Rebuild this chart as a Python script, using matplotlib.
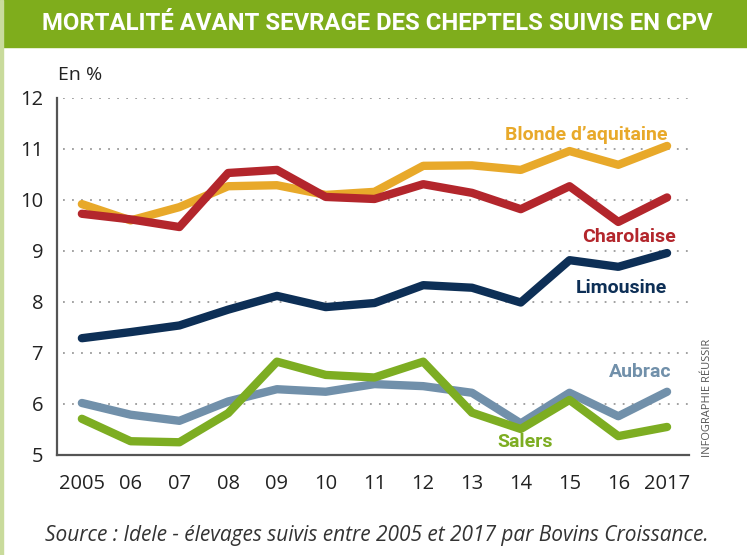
import matplotlib
matplotlib.use("Agg")
import matplotlib.pyplot as plt
from matplotlib.patches import Rectangle

# ==========================================================
# Data
# ==========================================================

years = [2005, 2006, 2007, 2008, 2009, 2010, 2011,
         2012, 2013, 2014, 2015, 2016, 2017]

year_labels = ['2005', '06', '07', '08', '09', '10', '11',
               '12', '13', '14', '15', '16', '2017']

blonde = [9.92, 9.60, 9.86, 10.27, 10.29, 10.10, 10.16,
          10.67, 10.68, 10.59, 10.96, 10.69, 11.06]

charolaise = [9.73, 9.62, 9.47, 10.53, 10.59, 10.06, 10.02,
              10.31, 10.14, 9.82, 10.27, 9.57, 10.05]

limousine = [7.29, 7.41, 7.54, 7.85, 8.12, 7.90, 7.98,
             8.33, 8.28, 7.99, 8.82, 8.69, 8.96]

aubrac = [6.02, 5.79, 5.67, 6.05, 6.29, 6.24, 6.39,
          6.35, 6.22, 5.62, 6.22, 5.76, 6.24]

salers = [5.71, 5.27, 5.25, 5.82, 6.83, 6.57, 6.52,
          6.83, 5.83, 5.51, 6.08, 5.37, 5.55]

series = [
    ('Blonde d\u2019aquitaine', blonde, '#E8A92A'),
    ('Charolaise', charolaise, '#B3262C'),
    ('Limousine', limousine, '#0D2F56'),
    ('Aubrac', aubrac, '#7190AA'),
    ('Salers', salers, '#7DAD22'),
]

# label anchor (right edge x, centre y)
label_pos = {
    'Blonde d\u2019aquitaine': (2017.0, 11.27),
    'Charolaise': (2017.18, 9.27),
    'Limousine': (2017.0, 8.27),
    'Aubrac': (2017.08, 6.63),
    'Salers': (2014.65, 5.25),
}

yticks = [5, 6, 7, 8, 9, 10, 11, 12]

# ==========================================================
# Figure
# ==========================================================

fig = plt.figure(figsize=(7.47, 5.55), dpi=100)

green = '#7FAD1C'
fig.patches.append(Rectangle((0, 1 - 47 / 555), 1, 47 / 555,
                             transform=fig.transFigure,
                             color=green, zorder=0))
fig.patches.append(Rectangle((0, 0), 3 / 747, 1,
                             transform=fig.transFigure,
                             color='#C9DB9C', zorder=0))

fig.text(377 / 747, 1 - 24 / 555,
         'MORTALITÉ AVANT SEVRAGE DES CHEPTELS SUIVIS EN CPV',
         ha='center', va='center', color='white',
         fontsize=17.2, fontweight='bold',
         family=['Roboto', 'DejaVu Sans'])

ax = fig.add_axes([57 / 747, 1 - 455 / 555, (689 - 57) / 747, (455 - 98) / 555])

for name, vals, col in series:
    ax.plot(years, vals, color=col, linewidth=6,
            solid_capstyle='round', solid_joinstyle='round', zorder=3)
    lx, ly = label_pos[name]
    ax.text(lx, ly, name, color=col, ha='right', va='center',
            fontsize=14, fontweight='bold',
            family=['Roboto', 'DejaVu Sans'], zorder=4)

# ==========================================================
# Axes formatting
# ==========================================================

ax.set_xlim(2004.49, 2017.45)
ax.set_ylim(5, 12)

for yv in yticks[1:]:
    ax.plot([2004.62, 2017.42], [yv, yv], linestyle=(0, (1, 4)),
            color='#9A9A9A', linewidth=1.3, zorder=1)

ax.set_xticks(years)
ax.set_xticklabels(year_labels)
ax.set_yticks(yticks)

for s in ['top', 'right']:
    ax.spines[s].set_visible(False)
for s in ['left', 'bottom']:
    ax.spines[s].set_color('#555555')
    ax.spines[s].set_linewidth(1.6)

ax.tick_params(axis='both', length=0, labelsize=14.5, colors='#222222')
ax.tick_params(axis='x', pad=14)
ax.tick_params(axis='y', pad=10)
for lab in ax.get_xticklabels() + ax.get_yticklabels():
    lab.set_family(['Open Sans', 'DejaVu Sans'])

fig.text(58 / 747, 1 - 75 / 555, 'En %', ha='left', va='center',
         fontsize=14, color='#222222', family=['Open Sans', 'DejaVu Sans'])

fig.text(708 / 747, 1 - 398 / 555, 'INFOGRAPHIE RÉUSSIR', rotation=90,
         ha='center', va='center', fontsize=8, color='#555555',
         family=['Open Sans', 'DejaVu Sans'])

fig.text(377 / 747, 1 - 535 / 555,
         'Source : Idele - élevages suivis entre 2005 et 2017 par Bovins Croissance.',
         ha='center', va='center', fontsize=15, style='italic',
         color='#333333', family=['Open Sans', 'DejaVu Sans'])

fig.savefig('out.png', dpi=100)
